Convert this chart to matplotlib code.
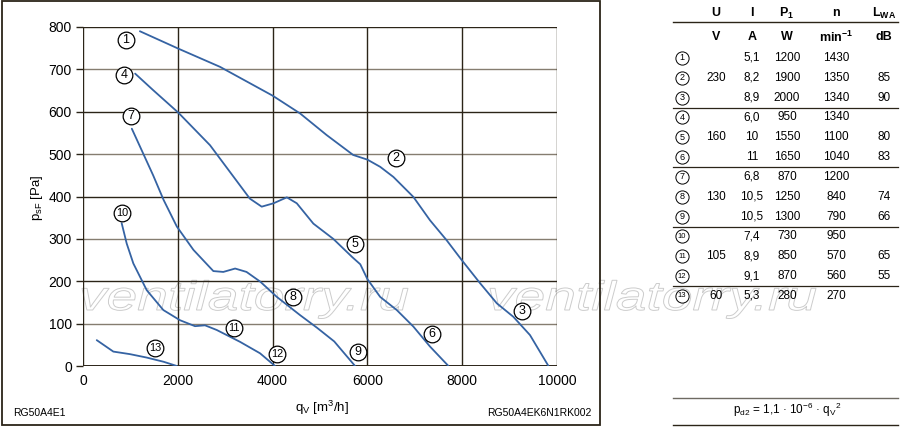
import matplotlib
matplotlib.use("Agg")
import matplotlib.pyplot as plt
from matplotlib.patches import PathPatch, Rectangle
from matplotlib.textpath import TextPath
from matplotlib.font_manager import FontProperties
from matplotlib.transforms import Affine2D

plt.rcParams['font.family'] = ['Liberation Sans', 'DejaVu Sans']

# ---- curve data (q_V in m3/h, p_sF in Pa) ----
curve_1_3_q = [1200, 2010, 2890, 4000, 4580, 5140, 5700, 6000, 6270, 6550, 6970,
               7320, 7670, 7990, 8380, 8730, 9080, 9430, 9820]
curve_1_3_p = [790, 749, 706, 638, 596, 545, 498, 487, 470, 446, 399,
               344, 297, 250, 195, 148, 116, 73, 0]

curve_4_6_q = [1100, 1480, 2010, 2680, 3100, 3520, 3770, 4020, 4300, 4510, 4860,
               5280, 5680, 5850, 6000, 6270, 6620, 6970, 7320, 7710]
curve_4_6_p = [690, 651, 598, 521, 458, 395, 376, 384, 398, 384, 336,
               300, 257, 240, 205, 163, 132, 93, 46, 0]

curve_7_9_q = [1030, 1480, 1700, 1980, 2330, 2750, 2960, 3210, 3450, 3740, 4090,
               4580, 4940, 5300, 5740]
curve_7_9_p = [560, 450, 392, 329, 274, 224, 222, 230, 222, 199, 163,
               120, 90, 58, 0]

curve_10_12_q = [816, 922, 1062, 1344, 1695, 2047, 2363, 2574, 2821, 3313, 3735, 4051]
curve_10_12_p = [337, 289, 242, 179, 132, 108, 94, 96, 85, 57, 30, 0]

curve_13_q = [290, 640, 990, 1340, 1700, 1980]
curve_13_p = [61, 34, 28, 20, 10, 0]

curves = [(curve_1_3_q, curve_1_3_p), (curve_4_6_q, curve_4_6_p),
          (curve_7_9_q, curve_7_9_p), (curve_10_12_q, curve_10_12_p),
          (curve_13_q, curve_13_p)]

# ---- table data ----
point_ids = list(range(1, 14))
group_voltage = ['230', '160', '130', '105', '60']
current = ['5,1', '8,2', '8,9', '6,0', '10', '11', '6,8', '10,5', '10,5', '7,4', '8,9', '9,1', '5,3']
power = ['1200', '1900', '2000', '950', '1550', '1650', '870', '1250', '1300', '730', '850', '870', '280']
speed = ['1430', '1350', '1340', '1340', '1100', '1040', '1200', '840', '790', '950', '570', '560', '270']
noise = ['', '85', '90', '', '80', '83', '', '74', '66', '', '65', '55', '']

x_ticks = [0, 2000, 4000, 6000, 8000, 10000]
y_ticks = [0, 100, 200, 300, 400, 500, 600, 700, 800]

blue = '#3563a3'
dark = '#2b2418'

fig = plt.figure(figsize=(9, 4.29), dpi=100)

# overlay in pixel coordinates for frame, table, watermark
ov = fig.add_axes([0, 0, 1, 1])
ov.set_xlim(0, 900)
ov.set_ylim(429, 0)
ov.axis('off')
ov.set_zorder(0)

ax = fig.add_axes([83 / 900, 1 - 366 / 429, 474 / 900, 339 / 429])
ax.set_zorder(1)
ax.patch.set_visible(False)

# watermark
fp = FontProperties(family='Liberation Sans', style='italic')
tp = TextPath((0, 0), 'ventilatorry.ru', size=1, prop=fp)
ext = tp.get_extents()
for x0 in (82, 490):
    sx = 326 / ext.width
    sy = 41
    tr = Affine2D().translate(-ext.x0, 0).scale(sx, -sy).translate(x0, 310)
    ov.add_patch(PathPatch(tr.transform_path(tp), facecolor='white',
                           edgecolor='#cccccc', lw=0.7, zorder=1))

# left frame
ov.add_patch(Rectangle((2, 1), 598, 424, fill=False, edgecolor=dark, lw=1.3, zorder=3))

# chart
for yv in y_ticks:
    c = dark if yv % 200 == 0 else '#857d70'
    ax.axhline(yv, color=c, lw=1.4 if yv == 0 else 1.0, zorder=1)
for xv in x_ticks:
    ax.axvline(xv, color=dark, lw=1.0, zorder=1)

for q, p in curves:
    ax.plot(q, p, color=blue, lw=1.3, zorder=3, solid_capstyle='round',
            solid_joinstyle='round')

labels = {1: (907, 769), 2: (6604, 491), 3: (9263, 130), 4: (865, 686),
          5: (5739, 288), 6: (7364, 75), 7: (1013, 590), 8: (4431, 163),
          9: (5803, 33), 10: (823, 361), 11: (3186, 90), 12: (4093, 28),
          13: (1519, 42)}
for k, (lx, ly) in labels.items():
    ax.plot(lx, ly, 'o', ms=12, mfc='white', mec='black', mew=0.9, zorder=4, clip_on=False)
    ax.text(lx, ly, str(k), ha='center', va='center', fontsize=9 if k < 10 else 7.8,
            zorder=5, color='black')

ax.set_xlim(0, 10000)
ax.set_ylim(0, 800)
ax.set_xticks(x_ticks)
ax.set_yticks(y_ticks)
ax.tick_params(axis='y', length=5, width=1, color=dark, labelsize=10, pad=3)
ax.tick_params(axis='x', length=0, labelsize=10, pad=6)
for s in ax.spines.values():
    s.set_visible(False)

fig.text(322 / 900, 1 - 408 / 429, r'q$_\mathregular{V}$ [m$^\mathregular{3}$/h]',
         ha='center', va='center', fontsize=9.5)
fig.text(37 / 900, 1 - 198 / 429, r'p$_\mathregular{sF}$ [Pa]', ha='center', va='center',
         rotation=90, fontsize=9.5)
fig.text(13 / 900, 1 - 413 / 429, 'RG50A4E1', ha='left', va='center', fontsize=7.5)
fig.text(591 / 900, 1 - 413 / 429, 'RG50A4EK6N1RK002', ha='right', va='center', fontsize=7.5)

# table
col_x = [716, 752, 787, 836, 884]
heads1 = ['U', 'I', r'P$_\mathregular{1}$', 'n', r'L$_\mathregular{WA}$']
heads2 = ['V', 'A', 'W', r'min$^\mathregular{-1}$', 'dB']
for cx, h1, h2 in zip(col_x, heads1, heads2):
    ov.text(cx, 13, h1, ha='center', va='center', fontsize=9, fontweight='bold', zorder=5)
    ov.text(cx, 37, h2, ha='center', va='center', fontsize=9, fontweight='bold', zorder=5)
ov.plot([673, 898], [22, 22], color=dark, lw=1.0, zorder=5)

row_y = [58 + i * 19.83 for i in range(13)]
for i, k in enumerate(point_ids):
    y = row_y[i]
    ov.plot(682, y, 'o', ms=9.5, mfc='white', mec='black', mew=0.7, zorder=5)
    ov.text(682, y, str(k), ha='center', va='center', fontsize=6.5 if k < 10 else 5.5, zorder=6)
    for cx, val in zip(col_x[1:], (current[i], power[i], speed[i], noise[i])):
        if val:
            ov.text(cx, y, val, ha='center', va='center', fontsize=8.5, zorder=5)

group_rows = [1, 4, 7, 10, 12]
for g, r in zip(group_voltage, group_rows):
    ov.text(col_x[0], row_y[r], g, ha='center', va='center', fontsize=8.5, zorder=5)

for r in (2, 5, 8, 11):
    yl = (row_y[r] + row_y[r + 1]) / 2
    ov.plot([673, 898], [yl, yl], color=dark, lw=0.9, zorder=5)

# formula box
ov.plot([673, 898], [398, 398], color='#6e6a62', lw=1.0, zorder=5)
ov.plot([673, 898], [425, 425], color=dark, lw=1.0, zorder=5)
ov.text(787, 410, r'p$_\mathregular{d2}$ = 1,1 · 10$^\mathregular{-6}$ · q$_\mathregular{V}$$^\mathregular{2}$',
        ha='center', va='center', fontsize=8.5, zorder=5)

fig.savefig('out.png', dpi=100)
